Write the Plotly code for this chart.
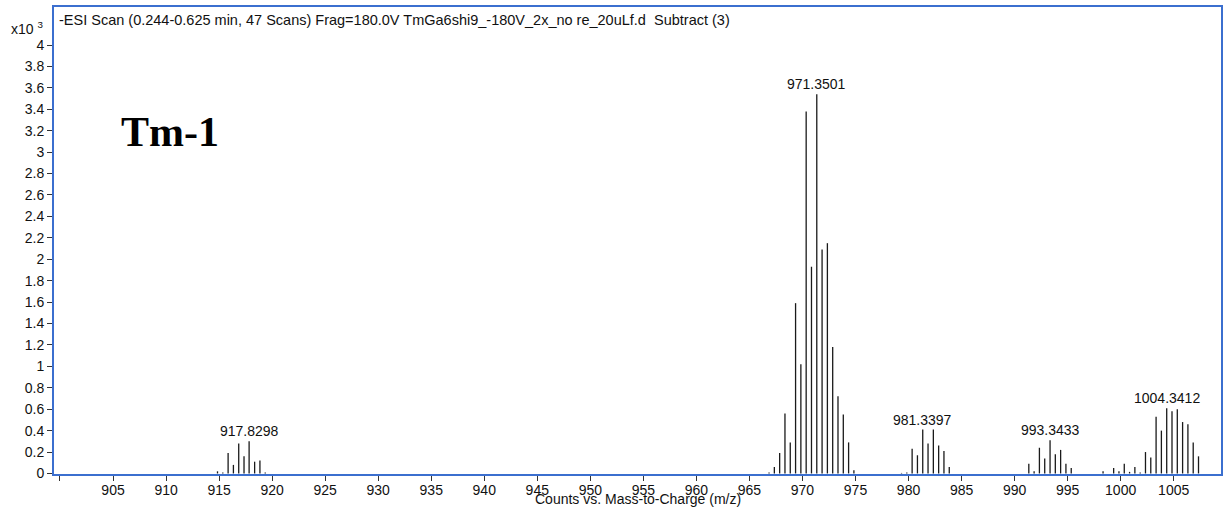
import plotly.graph_objects as go

# Centroided peaks of the -ESI spectrum, m/z and counts (x10^3)
mz_917 = [914.85, 915.35, 915.85, 916.35, 916.85, 917.35, 917.8298, 918.35, 918.85, 919.35]
int_917 = [0.02, 0.01, 0.19, 0.08, 0.28, 0.16, 0.30, 0.11, 0.12, 0.01]

mz_971 = [966.85, 967.35, 967.85, 968.35, 968.85, 969.35, 969.85, 970.35, 970.85,
          971.3501, 971.85, 972.35, 972.85, 973.35, 973.85, 974.35, 974.85]
int_971 = [0.01, 0.06, 0.19, 0.56, 0.29, 1.59, 1.02, 3.38, 1.93,
           3.54, 2.09, 2.15, 1.18, 0.72, 0.55, 0.29, 0.03]

mz_981 = [979.34, 979.84, 980.34, 980.84, 981.3397, 981.84, 982.34, 982.84, 983.34, 983.84]
int_981 = [0.005, 0.01, 0.23, 0.17, 0.41, 0.28, 0.41, 0.26, 0.21, 0.06]

mz_993 = [991.34, 991.84, 992.34, 992.84, 993.3433, 993.84, 994.34, 994.84, 995.34]
int_993 = [0.09, 0.02, 0.24, 0.14, 0.31, 0.18, 0.22, 0.09, 0.05]

mz_1004 = [998.34, 999.34, 999.84, 1000.34, 1000.84, 1001.34, 1001.84, 1002.34, 1002.84,
           1003.34, 1003.84, 1004.3412, 1004.84, 1005.34, 1005.84, 1006.34, 1006.84, 1007.34]
int_1004 = [0.02, 0.05, 0.02, 0.09, 0.015, 0.06, 0.01, 0.20, 0.15,
            0.53, 0.40, 0.61, 0.58, 0.60, 0.48, 0.46, 0.29, 0.16]

# Labelled peak of each cluster (m/z)
labelled_mz = [917.8298, 971.3501, 981.3397, 993.3433, 1004.3412]

x_ticks = list(range(905, 1010, 5))
x_minor = [900]
y_ticks = [round(i * 0.2, 1) for i in range(21)]

title_text = "-ESI Scan (0.244-0.625 min, 47 Scans) Frag=180.0V TmGa6shi9_-180V_2x_no re_20uLf.d  Subtract (3)"
sans = "Liberation Sans, Arial, sans-serif"

all_mz = mz_917 + mz_971 + mz_981 + mz_993 + mz_1004
all_int = int_917 + int_971 + int_981 + int_993 + int_1004

# Stick spectrum: one vertical segment per peak
xs, ys = [], []
for m, v in zip(all_mz, all_int):
    xs += [m, m, None]
    ys += [0, v, None]

fig = go.Figure()
fig.add_trace(go.Scatter(x=xs, y=ys, mode="lines",
                         line=dict(color="#1a1a1a", width=1.3),
                         hoverinfo="skip", showlegend=False))

peak_lookup = dict(zip(all_mz, all_int))
annotations = []
for m in labelled_mz:
    annotations.append(dict(x=m, y=peak_lookup[m], xref="x", yref="y",
                            text=f"{m:.4f}", showarrow=False,
                            yanchor="bottom", yshift=0,
                            font=dict(family=sans, size=14, color="#111")))

# Header text inside the frame
annotations.append(dict(x=0.0025, y=0.972, xref="paper", yref="paper",
                        xanchor="left", yanchor="middle", text=title_text,
                        showarrow=False, font=dict(family=sans, size=14.5, color="#111")))
# Scale factor of the y axis
annotations.append(dict(x=-0.0077, y=0.955, xref="paper", yref="paper",
                        xanchor="right", yanchor="middle", text="x10 <sup>3</sup>",
                        showarrow=False, font=dict(family=sans, size=14, color="#111")))
# Sample tag
annotations.append(dict(x=0.0995, y=0.732, xref="paper", yref="paper",
                        xanchor="center", yanchor="middle", text="<b>Tm-1</b>",
                        showarrow=False,
                        font=dict(family="Liberation Serif, Times New Roman, serif", size=42, color="#000")))
# X axis title
annotations.append(dict(x=0.5, y=-0.054, xref="paper", yref="paper",
                        xanchor="center", yanchor="middle",
                        text="Counts vs. Mass-to-Charge (m/z)", showarrow=False,
                        font=dict(family=sans, size=14, color="#111")))

frame_blue = "#3b6fcf"

fig.update_layout(
    width=1223, height=507,
    margin=dict(l=54, r=0, t=7, b=33),
    paper_bgcolor="white", plot_bgcolor="white",
    annotations=annotations,
    xaxis=dict(range=[899.435, 1009.46], tickmode="array", tickvals=x_ticks,
               ticktext=[str(t) for t in x_ticks],
               ticks="outside", ticklen=5, tickcolor="#333", tickwidth=1,
               ticklabelstandoff=-3,
               minor=dict(tickmode="array", tickvals=x_minor, ticks="outside",
                          ticklen=5, tickcolor="#333", tickwidth=1),
               showgrid=False, zeroline=False,
               showline=True, linecolor=frame_blue, linewidth=2, mirror=True,
               tickfont=dict(family=sans, size=14, color="#111")),
    yaxis=dict(range=[-0.005, 4.355], tickmode="array", tickvals=y_ticks,
               ticktext=[f"{t:g}" for t in y_ticks],
               ticks="outside", ticklen=5, tickcolor="#333", tickwidth=1,
               showgrid=False, zeroline=False,
               showline=True, linecolor=frame_blue, linewidth=2, mirror=True,
               tickfont=dict(family=sans, size=14, color="#111")),
)

fig.write_html("out.html")
